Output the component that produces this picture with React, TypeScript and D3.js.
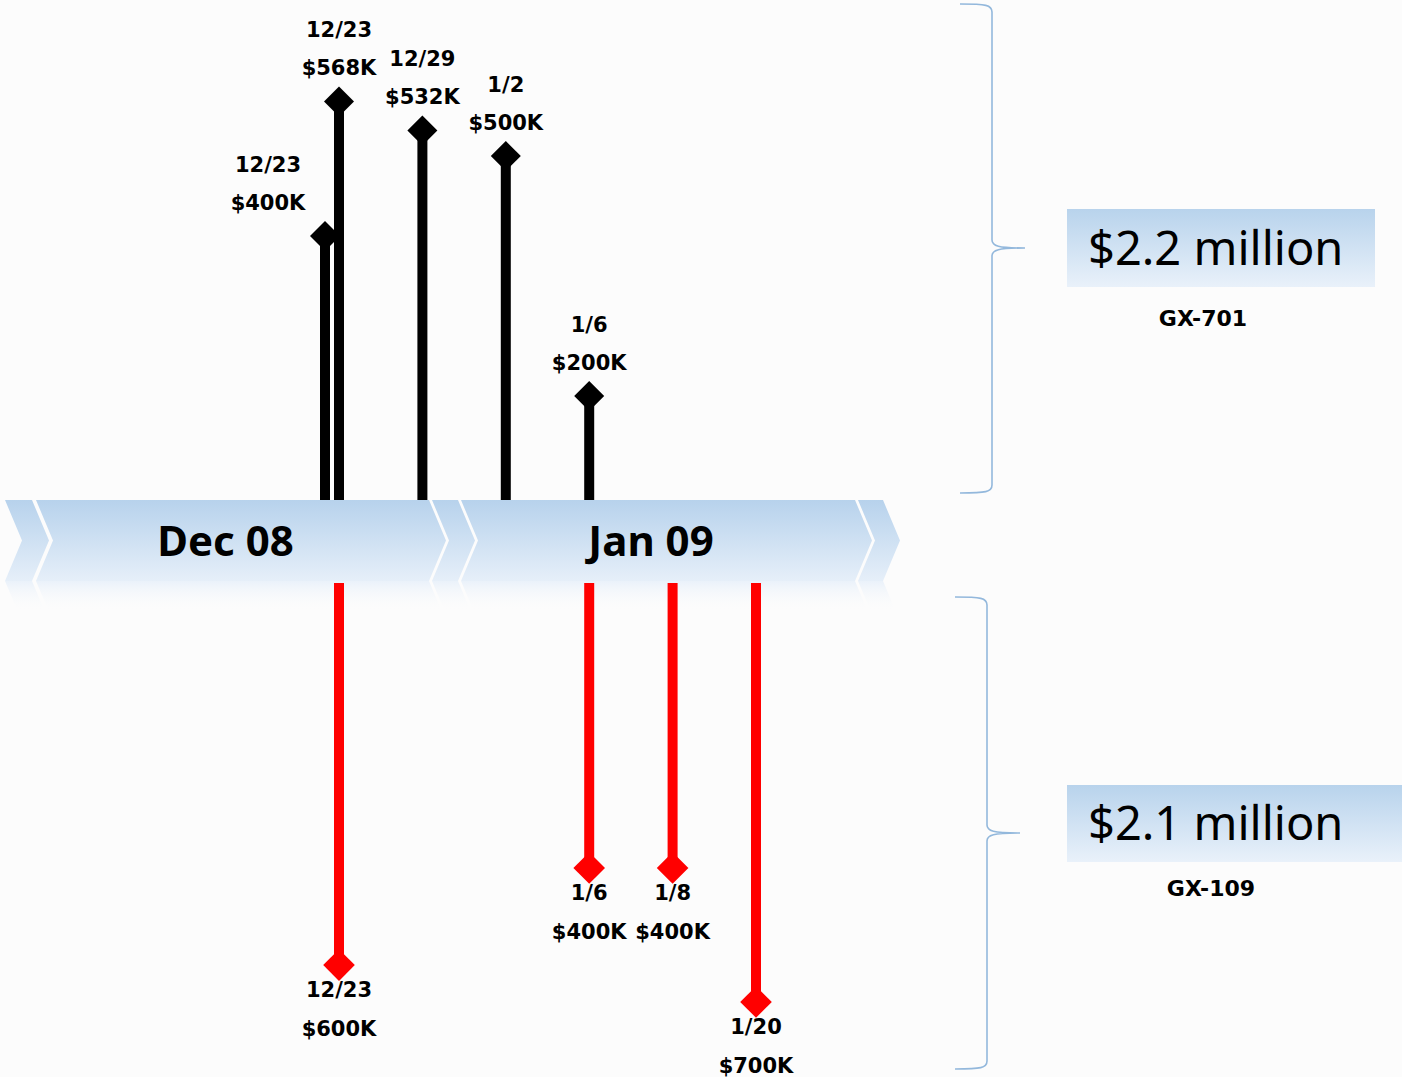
import React, { useEffect } from 'react';
import * as d3 from 'd3';

const W = 1402;
const H = 1077;

// timeline months and the event date slots along the band
const months = ['Dec 08', 'Jan 09'];
const dateSlots = ['12/23', '12/29', '1/2', '1/6', '1/8', '1/20'];

// GX-701 shipments (above the band)
const gx701Dates = ['12/23', '12/23', '12/29', '1/2', '1/6'];
const gx701Values = [568, 400, 532, 500, 200];

// GX-109 shipments (below the band)
const gx109Dates = ['12/23', '1/6', '1/8', '1/20'];
const gx109Values = [600, 400, 400, 700];

const totals = ['$2.2 million', '$2.1 million'];
const products = ['GX-701', 'GX-109'];

const BAND_TOP = 500;
const BAND_BOTTOM = 581;
const TIP = 17;

const LABEL_FONT = '"DejaVu Sans", sans-serif';
const SANS = '"Noto Sans", sans-serif';

type Ev = { date: string; value: number; shift: number };

function withShift(dates: string[], values: number[]): Ev[] {
  const evs = dates.map((d, i) => ({ date: d, value: values[i], shift: 0 }));
  // same date twice: smaller one is nudged to the left of the taller stem
  evs.forEach(e => {
    e.shift = evs.filter(o => o.date === e.date && o.value > e.value).length;
  });
  return evs;
}

function bracePath(xs: number, xv: number, xt: number, y0: number, ym: number, y1: number) {
  const r = 8;
  return [
    `M${xs},${y0}`,
    `C${xv - 6},${y0} ${xv},${y0 + 1} ${xv},${y0 + r}`,
    `L${xv},${ym - r}`,
    `C${xv},${ym - 2} ${xv + 6},${ym} ${xt},${ym}`,
    `C${xv + 6},${ym} ${xv},${ym + 2} ${xv},${ym + r}`,
    `L${xv},${y1 - r}`,
    `C${xv},${y1 - 1} ${xv - 6},${y1} ${xs},${y1}`,
  ].join(' ');
}

export default function App() {
  useEffect(() => {
    document.body.style.margin = '0';
  }, []);

  const x = d3.scalePoint<string>().domain(dateSlots).range([339, 756]);
  const yUp = d3.scaleLinear().domain([70, 570]).range([BAND_TOP, 100]);
  const yDown = d3.scaleLog().domain([400, 700]).range([868, 1002]);

  const up = withShift(gx701Dates, gx701Values);
  const down = withShift(gx109Dates, gx109Values);

  // band pieces: small, month, small, month, small
  const pieceWidths = [27, 393, 26, 394, 25];
  const gaps = [4, 3, 3, 3];
  let cx = 5;
  const pieces = pieceWidths.map((w, i) => {
    const p = { x0: cx, x1: cx + w, label: i === 1 ? months[0] : i === 3 ? months[1] : '' };
    cx += w + (gaps[i] || 0);
    return p;
  });
  const mid = (BAND_TOP + BAND_BOTTOM) / 2;
  const chevron = (p: { x0: number; x1: number }, top: number, bottom: number) => {
    const m = (top + bottom) / 2;
    return `M${p.x0},${top} L${p.x1},${top} L${p.x1 + TIP},${m} L${p.x1},${bottom} L${p.x0},${bottom} L${p.x0 + TIP},${m} Z`;
  };

  const diamond = d3.symbol(d3.symbolSquare, 450)();
  const diamondRed = d3.symbol(d3.symbolSquare, 500)();

  const boxes = [
    { x0: 1067, x1: 1375, y0: 209, y1: 287, gy: 318, gx: 1203 },
    { x0: 1067, x1: 1402, y0: 785, y1: 862, gy: 888, gx: 1211 },
  ];

  return (
    <div style={{ position: 'absolute', left: 0, top: 0 }}>
      <svg width={W} height={H} style={{ display: 'block', background: '#fcfcfc' }}>
        <defs>
          <linearGradient id="bandGrad" gradientUnits="userSpaceOnUse" x1="0" y1={BAND_TOP} x2="0" y2={BAND_BOTTOM}>
            <stop offset="0" stopColor="#b7d2ec" />
            <stop offset="1" stopColor="#e6eff9" />
          </linearGradient>
          <linearGradient id="reflGrad" gradientUnits="userSpaceOnUse" x1="0" y1={BAND_BOTTOM} x2="0" y2={BAND_BOTTOM + 30}>
            <stop offset="0" stopColor="#e9f1fa" stopOpacity="0.95" />
            <stop offset="1" stopColor="#fcfcfc" stopOpacity="0" />
          </linearGradient>
          <linearGradient id="boxGrad" x1="0" y1="0" x2="0" y2="1">
            <stop offset="0" stopColor="#b8d3ec" />
            <stop offset="1" stopColor="#e9f1fa" />
          </linearGradient>
          <clipPath id="reflClip">
            <rect x="0" y={BAND_BOTTOM} width={W} height="30" />
          </clipPath>
        </defs>

        {/* reflection under band */}
        <g clipPath="url(#reflClip)">
          {pieces.map((p, i) => (
            <path key={i} d={chevron(p, BAND_BOTTOM, BAND_BOTTOM + (BAND_BOTTOM - BAND_TOP))} fill="url(#reflGrad)" />
          ))}
        </g>

        {/* chevron band */}
        {pieces.map((p, i) => (
          <path key={i} d={chevron(p, BAND_TOP, BAND_BOTTOM)} fill="url(#bandGrad)" />
        ))}
        {pieces.filter(p => p.label).map((p, i) => (
          <text key={i} x={(p.x0 + p.x1) / 2 - 7} y={mid} dy="0.36em" textAnchor="middle"
            fontFamily={SANS} fontWeight="bold" fontSize={42} fill="#000">{p.label}</text>
        ))}

        {/* GX-701 stems */}
        {up.map((e, i) => {
          const sx = (x(e.date) || 0) - e.shift * 14;
          const sy = yUp(e.value);
          const lx = e.shift ? sx - 57 : sx;
          return (
            <g key={i}>
              <line x1={sx} x2={sx} y1={BAND_TOP} y2={sy} stroke="#000" strokeWidth={10} />
              <path d={diamond || ''} transform={`translate(${sx},${sy}) rotate(45)`} fill="#000" />
              <text x={lx} y={sy - 72} dy="0.36em" textAnchor="middle" fontFamily={LABEL_FONT}
                fontWeight="bold" fontSize={21} fill="#000">{e.date}</text>
              <text x={lx} y={sy - 34} dy="0.36em" textAnchor="middle" fontFamily={LABEL_FONT}
                fontWeight="bold" fontSize={21} fill="#000">{`$${e.value}K`}</text>
            </g>
          );
        })}

        {/* GX-109 stems */}
        {down.map((e, i) => {
          const sx = (x(e.date) || 0) - e.shift * 14;
          const sy = yDown(e.value);
          return (
            <g key={i}>
              <line x1={sx} x2={sx} y1={BAND_BOTTOM + 2} y2={sy} stroke="#ff0000" strokeWidth={10} />
              <path d={diamondRed || ''} transform={`translate(${sx},${sy}) rotate(45)`} fill="#ff0000" />
              <text x={sx} y={sy + 24} dy="0.36em" textAnchor="middle" fontFamily={LABEL_FONT}
                fontWeight="bold" fontSize={21} fill="#000">{e.date}</text>
              <text x={sx} y={sy + 63} dy="0.36em" textAnchor="middle" fontFamily={LABEL_FONT}
                fontWeight="bold" fontSize={21} fill="#000">{`$${e.value}K`}</text>
            </g>
          );
        })}

        {/* braces */}
        <path d={bracePath(960, 992, 1025, 4, 248, 493)} fill="none" stroke="#93b8dc" strokeWidth={1.6} />
        <path d={bracePath(955, 987, 1020, 597, 833, 1069)} fill="none" stroke="#93b8dc" strokeWidth={1.6} />

        {/* totals */}
        {boxes.map((b, i) => (
          <g key={i}>
            <rect x={b.x0} y={b.y0} width={b.x1 - b.x0} height={b.y1 - b.y0} fill="url(#boxGrad)" />
            <text x={1088} y={(b.y0 + b.y1) / 2} dy="0.36em" fontFamily={SANS} fontSize={47} fill="#000">{totals[i]}</text>
            <text x={b.gx} y={b.gy} dy="0.36em" textAnchor="middle" fontFamily={LABEL_FONT}
              fontWeight="bold" fontSize={22} fill="#000">{products[i]}</text>
          </g>
        ))}
      </svg>
    </div>
  );
}
